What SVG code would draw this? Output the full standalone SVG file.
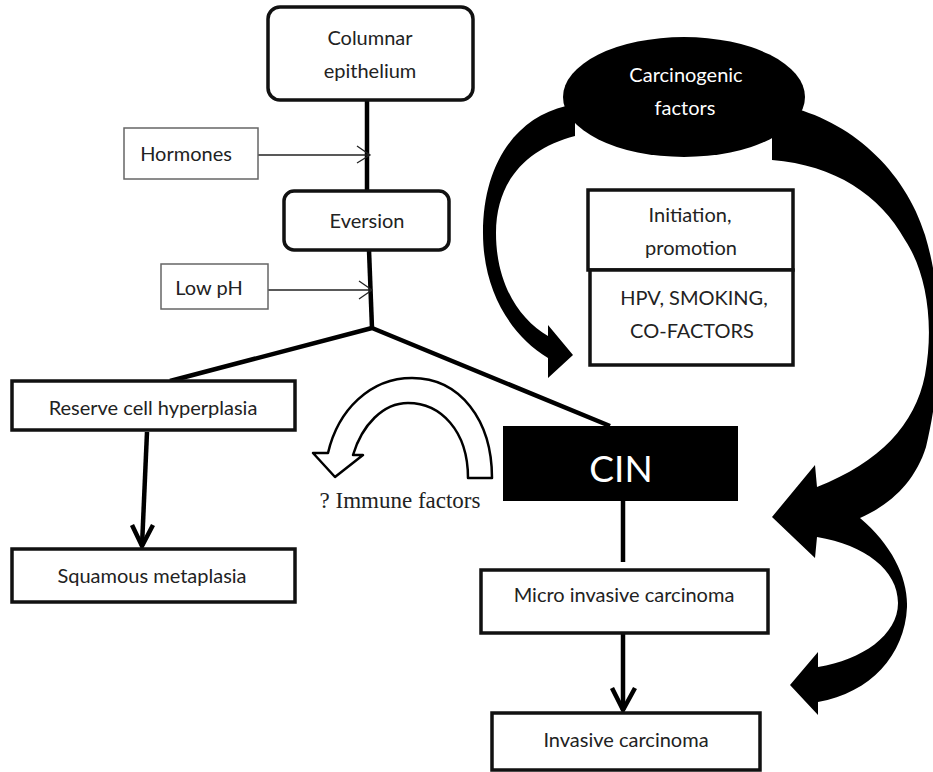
<svg xmlns="http://www.w3.org/2000/svg" width="933" height="772" viewBox="0 0 933 772">
<defs>
<style>
.bx{fill:#fff;stroke:#111;stroke-width:3.5}
.thin{fill:#fff;stroke:#666;stroke-width:1.5}
.t{font-family:Lato,"Open Sans",sans-serif;font-size:20px;fill:#222;text-anchor:middle}
.w{font-family:Lato,"Open Sans",sans-serif;font-size:20px;fill:#fff;text-anchor:middle}
.ln{stroke:#000;stroke-width:4.5;fill:none}
.tl{stroke:#222;stroke-width:1.3;fill:none}
.big{fill:#000;stroke:none}
</style>
</defs>
<rect width="933" height="772" fill="#fff"/>

<g id="connectors">
<line class="ln" x1="367" y1="100" x2="367" y2="191"/>
<line class="ln" x1="369" y1="250" x2="372" y2="328"/>
<polyline class="ln" points="170,381 372,328 610,426" stroke-linejoin="round"/>
<line class="tl" x1="258" y1="155" x2="369" y2="155"/>
<polyline class="tl" points="357,146 370,155 357,163"/>
<line class="tl" x1="268" y1="290" x2="371" y2="290"/>
<polyline class="tl" points="359,281 372,290 359,299"/>
<line class="ln" x1="147" y1="432" x2="142" y2="546"/>
<polyline class="ln" points="132,525 142,546 153,525"/>
<line class="ln" x1="623" y1="501" x2="623" y2="562"/>
<line class="ln" x1="623" y1="633" x2="623" y2="710"/>
<polyline class="ln" points="612,688 623,710 635,688"/>
<path id="left-arrow" class="big" d="M566,106 C515,118 483,165 483,233 C483,290 510,335 548,358 L548,378 L573,355 L548,325 L548,336 C520,320 496,285 496,233 C496,180 528,148 575,136 L575,118 Z"/>
<path id="right-arrows" class="big" d="M785,106 C850,120 905,170 925,235 C945,300 942,380 926,447 C915,482 890,505 860,518 C892,545 908,578 907,607 C905,655 870,693 818,702 L818,715 L790,685 L818,652 L818,667 C862,660 898,635 898,603 C898,570 865,545 817,537 L815,558 L772,517 L815,465 L817,487 C880,462 915,425 925,375 C935,320 925,270 905,240 C880,195 835,165 772,160 L772,135 Z"/>
<path id="immune-arrow" fill="#fff" stroke="#000" stroke-width="2.5" stroke-linejoin="round" d="M492,478 C492,420 460,378 412,378 C370,378 338,410 328,453 L313,453 L335,477 L363,455 L353,455 C362,425 383,403 408,403 C440,403 468,430 468,478 Z"/>
</g>

<g id="columnar">
<rect class="bx" x="268" y="7" width="205" height="93" rx="12"/>
<text class="t" x="370" y="45">Columnar</text>
<text class="t" x="370" y="78">epithelium</text>
</g>
<g id="hormones">
<rect class="thin" x="124" y="128" width="134" height="51"/>
<text class="t" x="186" y="161">Hormones</text>
</g>
<g id="eversion">
<rect class="bx" x="284" y="191" width="165" height="59" rx="10"/>
<text class="t" x="367" y="228">Eversion</text>
</g>
<g id="lowph">
<rect class="thin" x="161" y="264" width="107" height="45"/>
<text class="t" x="209" y="295">Low pH</text>
</g>
<g id="reserve">
<rect class="bx" x="12" y="381" width="283" height="49" stroke-width="3"/>
<text class="t" x="153" y="415">Reserve cell hyperplasia</text>
</g>
<g id="squamous">
<rect class="bx" x="12" y="549" width="283" height="53" stroke-width="3"/>
<text class="t" x="152" y="583">Squamous metaplasia</text>
</g>
<g id="immune">
<text x="400" y="508" font-family="'Liberation Serif',serif" font-size="23" fill="#222" text-anchor="middle">? Immune factors</text>
</g>
<g id="cin">
<rect x="503" y="426" width="235" height="75" fill="#000"/>
<text x="621" y="482" font-family="Lato,'Open Sans',sans-serif" font-size="37" fill="#fff" text-anchor="middle">CIN</text>
</g>
<g id="micro">
<rect class="bx" x="481" y="570" width="287" height="63" stroke-width="3"/>
<text class="t" x="624" y="602">Micro invasive carcinoma</text>
</g>
<g id="invasive">
<rect class="bx" x="492" y="713" width="268" height="57" stroke-width="3"/>
<text class="t" x="626" y="747">Invasive carcinoma</text>
</g>
<g id="carcinogenic">
<ellipse cx="684" cy="97" rx="121" ry="60" fill="#000"/>
<text class="w" x="686" y="82">Carcinogenic</text>
<text class="w" x="685" y="115">factors</text>
</g>
<g id="initiation">
<rect class="bx" x="588" y="190" width="205" height="80" stroke-width="3"/>
<text class="t" x="690" y="222">Initiation,</text>
<text class="t" x="691" y="255">promotion</text>
</g>
<g id="hpv">
<rect class="bx" x="590" y="270" width="203" height="95" stroke-width="3"/>
<text class="t" x="694" y="305">HPV, SMOKING,</text>
<text class="t" x="692" y="338">CO-FACTORS</text>
</g>
</svg>
